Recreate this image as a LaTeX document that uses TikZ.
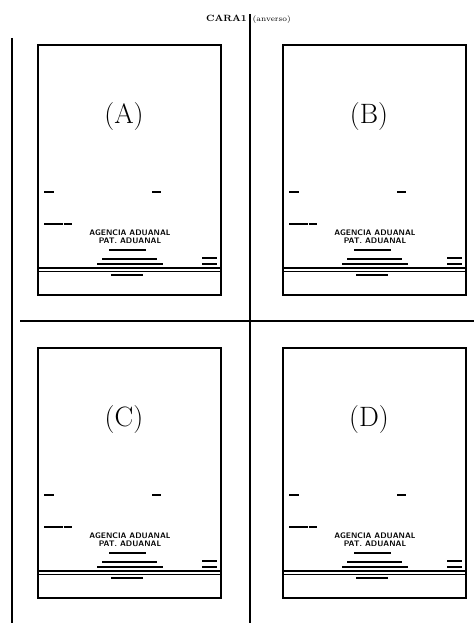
\documentclass[tikz,border=0pt]{standalone}
\usepackage{tikz}
\usetikzlibrary{positioning}

\begin{document}
\begin{tikzpicture}[
  x=0.75pt,y=-0.75pt,
  hoja/.style={draw,line width=1.1pt},
  corte/.style={line width=0.9pt},
  raya/.style={line width=1.7pt},
  letra/.style={font=\fontsize{21}{23}\selectfont,inner sep=0pt},
  agencia/.style={font=\sffamily\bfseries\fontsize{6}{6.5}\selectfont,inner sep=0pt},
  titulo/.style={font=\bfseries\fontsize{6.8}{7}\selectfont,inner sep=0pt},
  nota/.style={font=\fontsize{5.8}{6}\selectfont,inner sep=0pt}
]
\useasboundingbox (0,0) rectangle (474,623);

% titulo de la hoja
\node[titulo,anchor=base east] (cara) at (247,22) {CARA1};
\node[nota,right=4pt of cara.base east,anchor=base west] (anverso) {(anverso)};

% lineas de corte
\draw[corte] (250,14) -- (250,623);
\draw[corte] (12,38) -- (12,623);
\draw[corte] (20,321) -- (474,321);

% las cuatro caras
\foreach \px/\py/\l in {38/45/A,283/45/B,38/348/C,283/348/D}{
  \begin{scope}[shift={(\px,\py)}]
    \draw[hoja] (0,0) rectangle (183,250);
    \node[letra] (letra-\l) at (86,72) {(\l)};
    \draw[raya] (6,147) -- (16,147);
    \draw[raya] (114,147) -- (123,147);
    \draw[raya] (6,179) -- (24.5,179) (25.5,179) -- (34,179);
    \node[agencia] (agencia-\l) at (92,188) {AGENCIA ADUANAL};
    \node[agencia,below=1.2pt of agencia-\l] (patente-\l) {PAT. ADUANAL};
    \draw[raya,line width=1.2pt] (71,205) -- (108,205);
    \draw[raya,line width=1.2pt] (64,214) -- (119,214);
    \draw[raya,line width=1.2pt] (59,219) -- (125,219);
    \draw[raya] (164,213) -- (179,213);
    \draw[raya] (164,219) -- (179,219);
    \draw[line width=0.9pt] (0,223) -- (183,223);
    \draw[line width=0.9pt] (0,226.5) -- (183,226.5);
    \draw[raya,line width=1.4pt] (73,230) -- (105,230);
  \end{scope}
}
\end{tikzpicture}
\end{document}
